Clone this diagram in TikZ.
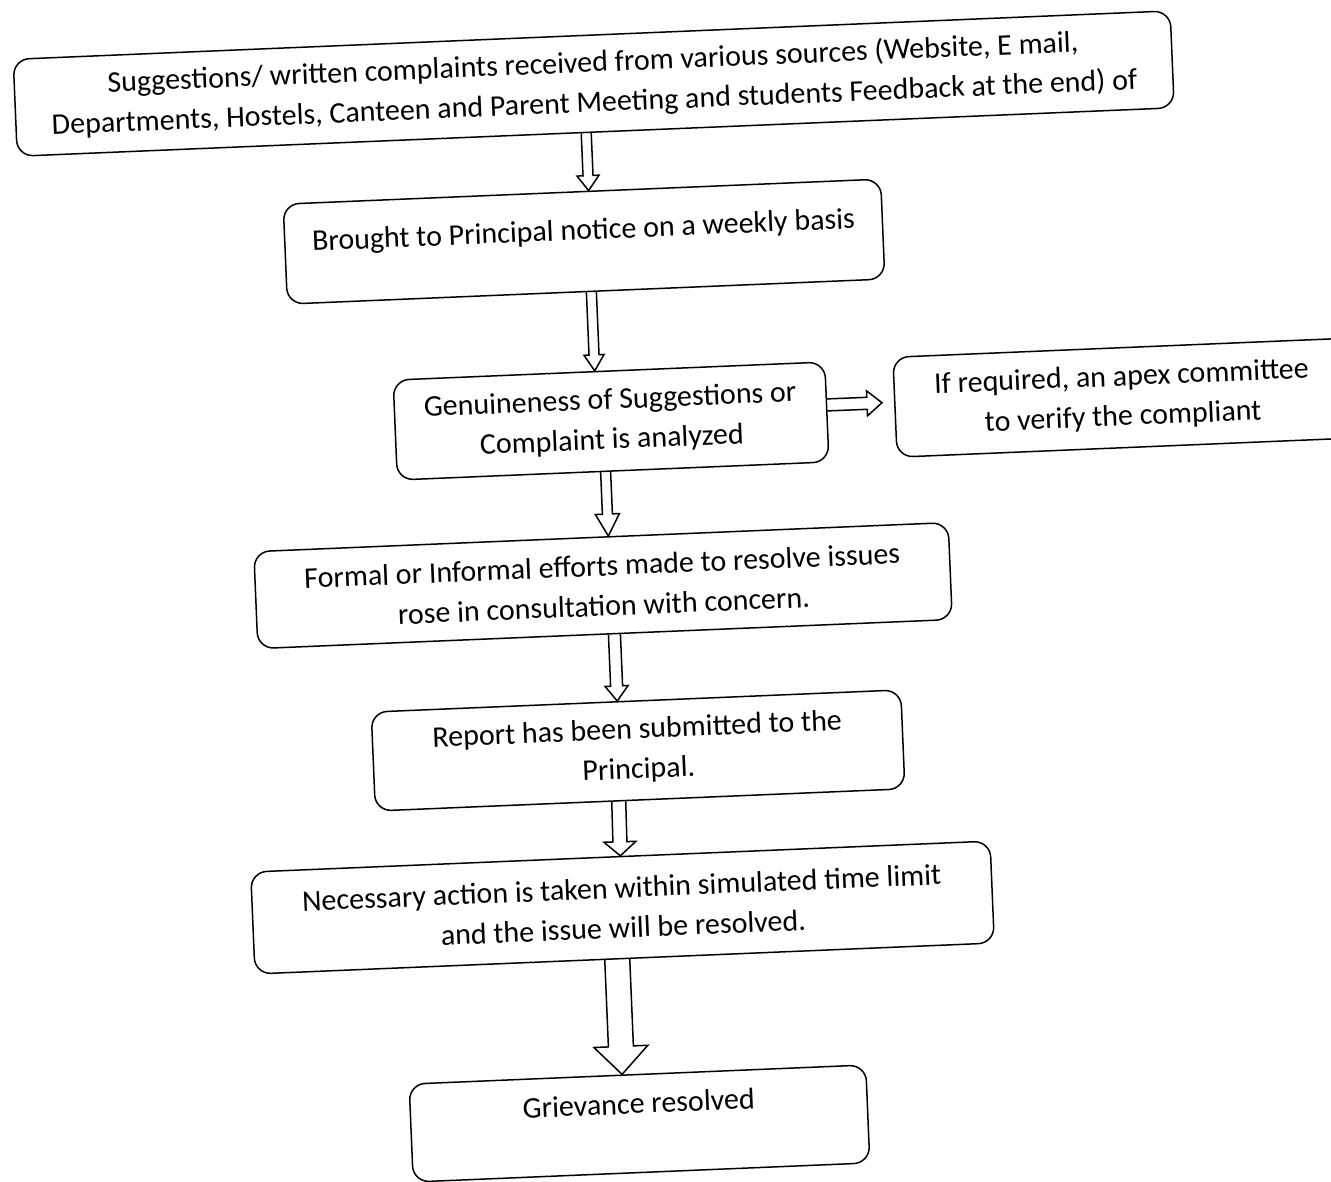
\documentclass[tikz,border=0pt]{standalone}
\usepackage{fontspec}
\setmainfont{Carlito}
\usetikzlibrary{calc}
\tikzset{
  box/.style={draw, line width=1.5pt, rounded corners=16pt, align=center, inner sep=0pt,
    font=\fontsize{30}{40}\selectfont},
  blockarrow/.style n args={3}{line width=1.5pt, line join=miter, to path={
    ($(\tikztostart)!#1!90:(\tikztotarget)$)
    -- ($(\tikztotarget)!#3!(\tikztostart)!#1!-90:(\tikztostart)$)
    -- ($(\tikztotarget)!#3!(\tikztostart)!#2!-90:(\tikztostart)$)
    -- (\tikztotarget)
    -- ($(\tikztotarget)!#3!(\tikztostart)!#2!90:(\tikztostart)$)
    -- ($(\tikztotarget)!#3!(\tikztostart)!#1!90:(\tikztostart)$)
    -- ($(\tikztostart)!#1!-90:(\tikztotarget)$)
  }}
}
\begin{document}
\begin{tikzpicture}[x=1pt,y=-1pt]
\useasboundingbox (0,0) rectangle (1331,1182);
\clip (0,0) rectangle (1331,1182);
\begin{scope}[rotate around={2.4:(665,591)}, transform shape]
\node[box, minimum width=1158pt, minimum height=97pt] (n1) at (615,81)
  {Suggestions/ written complaints received from various sources (Website, E mail,\\
   Departments, Hostels, Canteen and Parent Meeting and students Feedback at the end) of};
\node[box, minimum width=598pt, minimum height=100pt, text height=48pt, text depth=52pt] (n2) at (598.7,238.5)
  {Brought to Principal notice on a weekly basis};
\node[box, minimum width=432pt, minimum height=100pt] (n3) at (618.2,418.9)
  {Genuineness of Suggestions or\\Complaint is analyzed};
\node[box, minimum width=455pt, minimum height=100pt] (n4) at (1130,417)
  {If required, an apex committee\\to verify the compliant};
\node[box, minimum width=695pt, minimum height=97pt] (n5) at (603.3,583)
  {Formal or Informal efforts made to resolve issues\\rose in consultation with concern.};
\node[box, minimum width=530pt, minimum height=99pt] (n6) at (631.4,749.2)
  {Report has been submitted to the\\Principal.};
\node[box, minimum width=740pt, minimum height=102pt] (n7) at (609.3,905.5)
  {Necessary action is taken within simulated time limit\\and the issue will be resolved.};
\node[box, minimum width=457pt, minimum height=98pt, text height=39pt, text depth=59pt] (n8) at (617.2,1122)
  {Grievance resolved};

\coordinate (a1s) at ($(n1.south)!9.5pt!(n1.south west)$);
\coordinate (a1e) at ($(n2.north)!6.8pt!(n2.north east)$);
\coordinate (a2s) at ($(n2.south)!5.3pt!(n2.south east)$);
\coordinate (a2e) at ($(n3.north)!14.2pt!(n3.north west)$);
\coordinate (a3s) at ($(n3.south)!7.5pt!(n3.south west)$);
\coordinate (a3e) at ($(n5.north)!7.4pt!(n5.north east)$);
\coordinate (a5s) at ($(n5.south)!9.4pt!(n5.south east)$);
\coordinate (a5e) at ($(n6.north)!18.7pt!(n6.north west)$);
\coordinate (a6s) at ($(n6.south)!21.4pt!(n6.south west)$);
\coordinate (a6e) at (n7.north);
\coordinate (a7s) at ($(n7.south)!7.4pt!(n7.south west)$);
\coordinate (a7e) at ($(n8.north)!15.3pt!(n8.north west)$);
\coordinate (hs) at ($(n3.east)!7pt!(n3.north east)$);
\coordinate (he) at ($(n4.west)!5pt!(n4.north west)!12pt!90:(n4.north west)$);

\draw[blockarrow={5pt}{11pt}{15pt}] (a1s) to (a1e);
\draw[blockarrow={5pt}{10pt}{16pt}] (a2s) to (a2e);
\draw[blockarrow={5pt}{12pt}{22pt}] (a3s) to (a3e);
\draw[blockarrow={6pt}{11.5pt}{15pt}] (a5s) to (a5e);
\draw[blockarrow={7pt}{16pt}{14pt}] (a6s) to (a6e);
\draw[blockarrow={12.5pt}{27pt}{28pt}] (a7s) to (a7e);
\draw[blockarrow={6pt}{12.5pt}{15pt}] (hs) to (he);
\end{scope}
\end{tikzpicture}
\end{document}
